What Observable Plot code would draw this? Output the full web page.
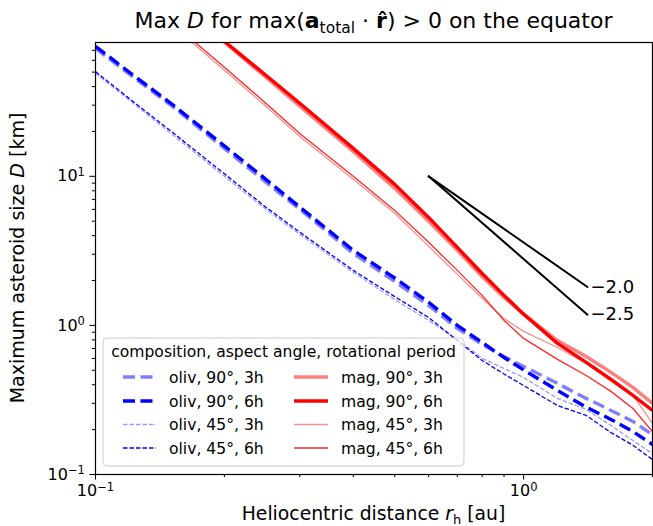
<!DOCTYPE html>
<html><head><meta charset="utf-8">
<script src="https://cdn.jsdelivr.net/npm/d3@7"></script>
<script src="https://cdn.jsdelivr.net/npm/@observablehq/plot@0.6"></script>
<style>
body{margin:0;background:#fff}
svg{font-family:"DejaVu Sans",sans-serif}
</style>
</head><body><div id="chart"></div>
<script>
// Heliocentric distance grid [au]
const rh = [0.1, 0.12, 0.15, 0.2, 0.25, 0.3, 0.4, 0.5, 0.6, 0.7, 0.8, 0.9, 1.0, 1.2, 1.4, 1.6, 1.8, 2.0];
// Maximum asteroid size D [km]
const oliv90_3h = [72.3, 48.4, 30.0, 15.4, 9.12, 6.01, 3.04, 1.97, 1.36, 0.955, 0.745, 0.619, 0.531, 0.408, 0.324, 0.269, 0.227, 0.185];
const oliv90_6h = [74.5, 49.9, 30.9, 16.0, 9.55, 6.22, 3.19, 2.08, 1.43, 1.0, 0.769, 0.609, 0.503, 0.366, 0.283, 0.234, 0.194, 0.159];
const oliv45_3h = [49.1, 32.4, 19.4, 10.0, 6.01, 4.08, 2.27, 1.49, 1.08, 0.805, 0.601, 0.514, 0.448, 0.324, 0.273, 0.213, 0.169, 0.138];
const oliv45_6h = [50.4, 33.2, 20.1, 10.4, 6.21, 4.22, 2.34, 1.56, 1.13, 0.792, 0.582, 0.472, 0.395, 0.290, 0.249, 0.191, 0.157, 0.126];
const mag90_3h = [null, null, 157, 79.3, 46.2, 29.5, 14.7, 8.30, 5.00, 3.19, 2.13, 1.54, 1.19, 0.792, 0.619, 0.484, 0.384, 0.300];
const mag90_6h = [null, null, 161, 80.5, 47.6, 30.9, 15.4, 8.83, 5.30, 3.34, 2.23, 1.59, 1.19, 0.757, 0.565, 0.435, 0.339, 0.269];
const mag45_3h = [null, null, 105, 51.4, 29.5, 18.5, 9.55, 5.65, 3.39, 2.20, 1.52, 1.11, 0.912, 0.711, 0.556, 0.421, 0.339, 0.220];
const mag45_6h = [null, null, 109, 53.9, 30.9, 19.4, 10.0, 5.91, 3.61, 2.34, 1.59, 1.08, 0.818, 0.592, 0.461, 0.361, 0.277, 0.194];

const seriesLabels = ["oliv, 90°, 3h", "oliv, 90°, 6h", "oliv, 45°, 3h", "oliv, 45°, 6h",
                      "mag, 90°, 3h", "mag, 90°, 6h", "mag, 45°, 3h", "mag, 45°, 6h"];
const seriesValues = [oliv90_3h, oliv90_6h, oliv45_3h, oliv45_6h, mag90_3h, mag90_6h, mag45_3h, mag45_6h];

// reference slope lines
const guideX = [0.6, 1.41];
const guideSlope20 = [10, 1.81];
const guideSlope25 = [10, 1.18];
const guideLabels = ["−2.0", "−2.5"];

const legendTitle = "composition, aspect angle, rotational period";
const xMajor = [0.1, 1];
const xMinor = [0.2, 0.3, 0.4, 0.5, 0.6, 0.7, 0.8, 0.9, 2];
const yMajor = [0.1, 1, 10];
const yMinor = [0.2,0.3,0.4,0.5,0.6,0.7,0.8,0.9,2,3,4,5,6,7,8,9,20,30,40,50,60,70];
const tickExp = {0.1: "−1", 1: "0", 10: "1"};

// styles
const styles = [
  {stroke: "blue", opacity: 0.5, width: 3.4, dash: "12,5.5"},
  {stroke: "blue", opacity: 1, width: 3.4, dash: "12,5.5"},
  {stroke: "blue", opacity: 0.4, width: 1.3, dash: "4.5,2"},
  {stroke: "blue", opacity: 1, width: 1.3, dash: "4.5,2"},
  {stroke: "red", opacity: 0.5, width: 3.4, dash: null},
  {stroke: "red", opacity: 1, width: 3.4, dash: null},
  {stroke: "red", opacity: 0.45, width: 1.3, dash: null},
  {stroke: "red", opacity: 0.85, width: 1.3, dash: null}
];

const W = 653, H = 526, mL = 95, mR = 1, mT = 42, mB = 52;

const lineMarks = seriesValues.map((vals, i) => {
  const data = rh.map((x, j) => ({x, D: vals[j]})).filter(d => d.D != null);
  const s = styles[i];
  return Plot.line(data, {x: "x", y: "D", stroke: s.stroke, strokeOpacity: s.opacity,
    strokeWidth: s.width, strokeDasharray: s.dash, strokeLinecap: "butt", strokeLinejoin: "round", clip: true});
});

const guideData20 = guideX.map((x, j) => ({x, D: guideSlope20[j]}));
const guideData25 = guideX.map((x, j) => ({x, D: guideSlope25[j]}));
const guideLabelData = [
  {x: guideX[1], D: guideSlope20[1], t: guideLabels[0]},
  {x: guideX[1], D: guideSlope25[1], t: guideLabels[1]}
];

const chart = Plot.plot({
  width: W, height: H,
  marginLeft: mL, marginRight: mR, marginTop: mT, marginBottom: mB,
  style: {fontFamily: "DejaVu Sans", fontSize: "16px", background: "white", color: "black", overflow: "visible"},
  x: {type: "log", domain: [0.1, 2], axis: null},
  y: {type: "log", domain: [0.1, 79], axis: null},
  marks: [
    ...lineMarks,
    Plot.line(guideData20, {x: "x", y: "D", stroke: "black", strokeWidth: 2}),
    Plot.line(guideData25, {x: "x", y: "D", stroke: "black", strokeWidth: 2}),
    Plot.text(guideLabelData, {x: "x", y: "D", text: "t", textAnchor: "start", dx: 3, fontSize: 18, fill: "black"}),
    Plot.axisX({ticks: xMinor, tickSize: 3.2, tickFormat: () => "", label: null, strokeWidth: 1}),
    Plot.axisX({ticks: xMajor, tickSize: 5.6, tickPadding: 5, tickFormat: d => "10^" + tickExp[d], label: null, fontSize: 16, strokeWidth: 1}),
    Plot.axisY({ticks: yMinor, tickSize: 3.2, tickFormat: () => "", label: null, strokeWidth: 1}),
    Plot.axisY({ticks: yMajor, tickSize: 5.6, tickPadding: 5, tickFormat: d => "10^" + tickExp[d], label: null, fontSize: 16, strokeWidth: 1}),
    Plot.frame({stroke: "black", strokeWidth: 1.2})
  ]
});
document.getElementById("chart").appendChild(chart);

const svg = d3.select(chart);

// rewrite power-of-ten tick labels with real superscripts
svg.selectAll("text").each(function() {
  const el = d3.select(this);
  const m = /^10\^(.+)$/.exec(el.text());
  if (!m) return;
  el.text("");
  el.append("tspan").text("10");
  el.append("tspan").attr("dy", "-0.45em").style("font-size", "0.72em").text(m[1]);
});

// Title
const title = svg.append("text").attr("x", (mL + W - mR) / 2).attr("y", 28)
  .attr("text-anchor", "middle").style("font-size", "22px").attr("fill", "black");
title.append("tspan").text("Max ");
title.append("tspan").style("font-style", "italic").text("D");
title.append("tspan").text(" for max(");
title.append("tspan").style("font-weight", "bold").text("a");
title.append("tspan").attr("dy", 4.5).style("font-size", "15.5px").text("total");
title.append("tspan").attr("dy", -4.5).text(" · ");
title.append("tspan").style("font-weight", "bold").text("r\u0302");
title.append("tspan").text(") > 0 on the equator");

// Axis labels
const xl = svg.append("text").attr("x", (mL + W - mR) / 2).attr("y", 520)
  .attr("text-anchor", "middle").style("font-size", "18.8px").attr("fill", "black");
xl.append("tspan").text("Heliocentric distance ");
xl.append("tspan").style("font-style", "italic").text("r");
xl.append("tspan").attr("dy", 3.5).style("font-size", "13px").text("h");
xl.append("tspan").attr("dy", -3.5).text(" [au]");

const yl = svg.append("text").attr("transform", `translate(24,${(mT + H - mB) / 2}) rotate(-90)`)
  .attr("text-anchor", "middle").style("font-size", "19px").attr("fill", "black");
yl.append("tspan").text("Maximum asteroid size ");
yl.append("tspan").style("font-style", "italic").text("D");
yl.append("tspan").text(" [km]");

// Legend
const lg = svg.append("g");
const bx = 103, by = 338, bw = 361, bh = 128;
lg.append("rect").attr("x", bx).attr("y", by).attr("width", bw).attr("height", bh)
  .attr("rx", 4).attr("fill", "white").attr("fill-opacity", 0.8).attr("stroke", "#cccccc");
lg.append("text").attr("x", bx + bw / 2).attr("y", 357).attr("text-anchor", "middle")
  .style("font-size", "15.6px").attr("fill", "black").text(legendTitle);
const rowY = [377, 401, 424.5, 448];
seriesLabels.forEach((lab, i) => {
  const col = Math.floor(i / 4), row = i % 4;
  const hx0 = col === 0 ? 123 : 294, hx1 = col === 0 ? 156 : 328;
  const tx = col === 0 ? 169 : 341;
  const s = styles[i];
  lg.append("line").attr("x1", hx0).attr("x2", hx1).attr("y1", rowY[row]).attr("y2", rowY[row])
    .attr("stroke", s.stroke).attr("stroke-opacity", s.opacity).attr("stroke-width", s.width)
    .attr("stroke-dasharray", s.dash);
  lg.append("text").attr("x", tx).attr("y", rowY[row]).attr("dy", "0.36em").attr("text-anchor", "start")
    .style("font-size", "15.6px").attr("fill", "black").text(lab);
});
</script>
</body></html>
